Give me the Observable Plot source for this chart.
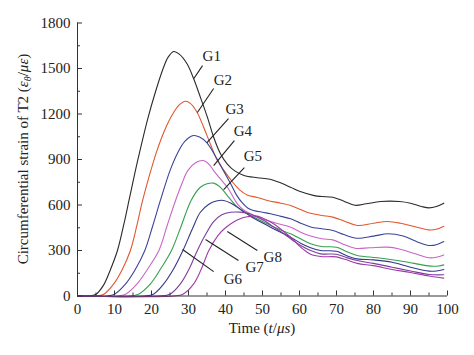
<!DOCTYPE html>
<html><head><meta charset="utf-8">
<script src="https://cdn.jsdelivr.net/npm/d3@7"></script>
<script src="https://cdn.jsdelivr.net/npm/@observablehq/plot@0.6"></script>
<style>body{margin:0;background:#fff} svg{display:block}</style>
</head><body><div id="chart"></div>
<script>
// ---- data ----
const seriesNames = ["G1","G2","G3","G4","G5","G6","G7","G8"];
const seriesColors = ["#2a2a2a","#e2572c","#3c4399","#c865c6","#35a04e","#33388a","#7c3f9f","#a03aa8"];

const g1t = [0,3,5,7,9,10.8,12.5,14,15.5,17,19,21,23,24.5,26,27.5,29.6,31.4,33.2,35.1,36.8,38.6,40.5,42.5,45,48.6,52,55,57.6,60,64,66,69,72,75,78,82,87,90,93,95,97,99];
const g1v = [0,0,12,70,180,300,470,640,810,970,1170,1340,1490,1575,1612,1595,1531,1432,1311,1179,1047,940,870,825,795,780,770,745,717,690,662,656,651,625,598,608,623,623,612,590,581,590,612];

const g2t = [0,5,7,9.8,12,14.3,16,17.5,19.5,21.5,23.5,25.5,27.5,29.2,30.5,32.3,34.1,35.9,37.8,39.8,41.8,43.8,46,48.6,51.3,54.9,57.6,60.3,63,66,69,72,75.6,80,83.7,87.3,91,95,97,99];
const g2v = [0,0,10,80,170,300,460,620,800,960,1090,1190,1260,1284,1270,1212,1113,1003,893,820,755,700,665,650,630,612,597,570,545,531,520,495,465,480,491,480,458,436,440,460];

const g3t = [0,8,10,13,15.5,18.2,20.3,22.4,25,27,29,31.4,33,35,37.8,39.6,41.4,43,44.5,46,47.6,50,52.2,55,57.6,60.3,63,66,69,72,75.5,80,84,88,92,95,97,99];
const g3v = [0,0,12,80,170,300,460,630,827,940,1020,1058,1048,1010,900,820,740,665,615,580,564,552,542,525,509,480,455,443,432,405,381,395,410,395,355,333,338,359];

const g4t = [0,11,13,16.1,19,22,24.3,26.5,28.2,29.8,32,34,35.5,36.8,38.5,40.5,43.2,45,46.8,49,51.3,54,57.6,60.3,63,66,69,72,75,79,83.7,87,91,95,97,99];
const g4v = [0,0,12,80,180,300,470,630,740,827,880,893,870,827,775,717,608,565,542,518,498,478,454,421,395,377,370,340,315,318,322,310,280,252,255,270];

const g5t = [0,14,16.5,19.7,22.5,25.4,28,30.7,33.2,35,36.8,38.5,40.5,43.2,45,46.8,49,51.3,54.5,57.6,60.3,63,66,70,72.5,75.6,81,86.5,91,95.4,97.5,99];
const g5v = [0,0,12,80,180,300,460,630,717,740,744,720,662,586,555,531,502,476,440,410,377,345,326,322,295,267,252,234,215,197,198,205];

const g6t = [0,18,20.5,23.3,26,28.5,31,33.2,35.5,37.5,39.5,41.5,43.2,45,46.8,49,51.3,54.5,57.6,60.3,63,65.7,70,72.5,75.6,80,85,90,95,97,99];
const g6v = [0,0,12,80,180,300,440,552,605,626,630,612,586,555,524,494,465,425,388,348,318,300,295,268,245,238,223,190,164,165,175];

const g7t = [0,22,25,27.8,30.2,32.4,34.5,36.8,39,41.4,44,46,48.6,51,53,55.5,57.6,60.3,63,65.7,70,72.5,75.6,80,85,90,95,99];
const g7v = [0,0,12,80,180,300,400,490,535,552,553,545,520,490,454,415,377,333,300,278,275,255,234,215,190,165,142,140];

const g8t = [0,26,28.5,31.4,33.5,35.5,38,40,42.3,44,45.9,48,50,53,55.5,57.6,60.3,63,65.7,70,72.5,75.6,80,85,90,95,99];
const g8v = [0,0,12,80,180,300,400,450,490,510,522,528,515,476,430,388,322,275,260,258,240,215,200,175,155,132,118];

// label text anchor (data units) and leader lines
const labelX  = [33.8,36.8,40.0,42.2,44.9,39.5,45.4,50.3];
const labelY  = [1552,1388,1203,1058,893,82,161,227];
const leadX1  = [33.8,36.8,40.8,42.4,45.1,28.4,34.6,40.5];
const leadY1  = [1519,1368,1170,1025,847,307,372,425];
const leadX2  = [31.4,32.4,35.0,36.8,39.5,36.8,43.5,48.6];
const leadY2  = [1432,1210,1012,860,702,161,234,300];

const xTicks = [0,10,20,30,40,50,60,70,80,90,100];
const xMinor = [5,15,25,35,45,55,65,75,85,95];
const yTicks = [0,300,600,900,1200,1500,1800];
const yMinor = [150,450,750,1050,1350,1650];

// ---- build ----
const tArr = [g1t,g2t,g3t,g4t,g5t,g6t,g7t,g8t];
const vArr = [g1v,g2v,g3v,g4v,g5v,g6v,g7v,g8v];
const rows = [];
seriesNames.forEach((n, k) => tArr[k].forEach((t, i) => rows.push({series: n, t, v: vArr[k][i]})));
const labels = seriesNames.map((n, k) => ({name: n, lx: labelX[k], ly: labelY[k], x1: leadX1[k], y1: leadY1[k], x2: leadX2[k], y2: leadY2[k]}));

const W = 474, H = 355, mL = 77, mR = 27, mT = 22.5, mB = 59.5;
const frameW = W - mL - mR, frameH = H - mT - mB;
const axisColor = "#333";
const font = "'Liberation Serif','Times New Roman',serif";

const chart = Plot.plot({
  width: W, height: H,
  marginLeft: mL, marginRight: mR, marginTop: mT, marginBottom: mB,
  style: {fontFamily: font, fontSize: "15px", color: "#222", background: "#fff"},
  x: {domain: [0, 100]},
  y: {domain: [0, 1800]},
  color: {domain: seriesNames, range: seriesColors},
  marks: [
    Plot.line(rows, {x: "t", y: "v", z: "series", stroke: "series", strokeWidth: 1.1, curve: "catmull-rom"}),
    Plot.link(labels, {x1: "x1", y1: "y1", x2: "x2", y2: "y2", stroke: "#222", strokeWidth: 1.1}),
    Plot.text(labels, {x: "lx", y: "ly", text: "name", textAnchor: "start", lineAnchor: "bottom", fontSize: 15, fill: "#222"}),
    Plot.ruleX([0], {stroke: axisColor}),
    Plot.ruleY([0], {stroke: axisColor}),
    Plot.tickY(yTicks, {y: d => d, insetRight: frameW - 5, stroke: axisColor}),
    Plot.tickY(yMinor, {y: d => d, insetRight: frameW - 3, stroke: axisColor}),
    Plot.tickX(xTicks, {x: d => d, insetTop: frameH - 5, stroke: axisColor}),
    Plot.tickX(xMinor, {x: d => d, insetTop: frameH - 3, stroke: axisColor}),
    Plot.axisY({ticks: yTicks, tickFormat: d => String(d), tickSize: 0, tickPadding: 7, label: null, fontSize: 15}),
    Plot.axisX({ticks: xTicks, tickFormat: d => String(d), tickSize: 0, tickPadding: 7, label: null, fontSize: 15})
  ]
});
document.getElementById("chart").appendChild(chart);

// axis titles with italics / subscripts
const svg = d3.select(chart);
const xt = svg.append("text").attr("x", mL + frameW / 2).attr("y", 333)
  .attr("text-anchor", "middle").attr("fill", "#222")
  .style("font-family", font).style("font-size", "15px");
xt.append("tspan").text("Time (");
xt.append("tspan").attr("font-style", "italic").text("t");
xt.append("tspan").text("/");
xt.append("tspan").attr("font-style", "italic").text("μs");
xt.append("tspan").text(")");

const yt = svg.append("text").attr("transform", `translate(28,${mT + frameH / 2}) rotate(-90)`)
  .attr("text-anchor", "middle").attr("fill", "#222")
  .style("font-family", font).style("font-size", "15px");
yt.append("tspan").text("Circumferential strain of T2 (");
yt.append("tspan").attr("font-style", "italic").text("ε");
yt.append("tspan").attr("font-style", "italic").attr("font-size", "10px").attr("dy", 3).text("θ");
yt.append("tspan").attr("dy", -3).text("/");
yt.append("tspan").attr("font-style", "italic").text("με");
yt.append("tspan").text(")");
</script>
</body></html>
